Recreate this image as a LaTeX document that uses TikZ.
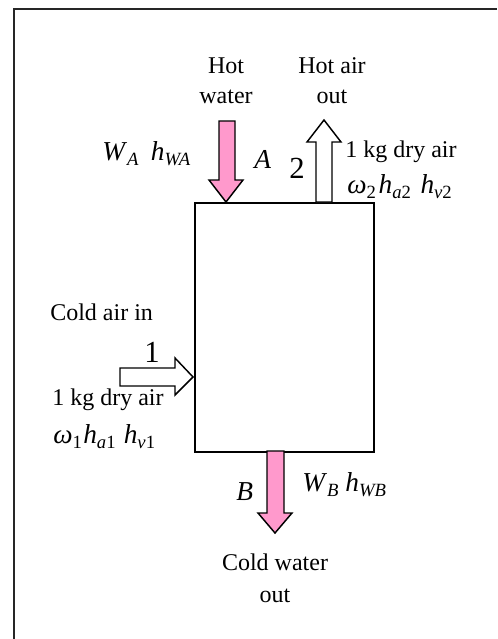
\documentclass[tikz,border=0pt]{standalone}
\usepackage{fontspec}
\setmainfont{Liberation Serif}
\definecolor{pinkw}{RGB}{255,153,204}
\newcommand{\sbs}[1]{\raisebox{-0.42ex}{\fontsize{14}{14}\selectfont #1}}
\newcommand{\ital}[1]{\textit{#1}}
\begin{document}
\begin{tikzpicture}[x=0.75pt,y=-0.75pt,
  lbl/.style={inner sep=0pt, font=\fontsize{18}{22}\selectfont},
  mlbl/.style={inner sep=0pt, font=\fontsize{20.5}{24}\selectfont},
  big/.style={inner sep=0pt, font=\fontsize{23}{26}\selectfont},
  blockarrow/.style={draw=black, line width=1.1pt, line join=miter},
  frame/.style={draw=black!85, line width=1.5pt}]
\useasboundingbox (0,0) rectangle (497,639);
% outer frame (top and left edges visible)
\draw[frame] (14,639) -- (14,9) -- (497,9);
% the unit
\node (box) [draw, line width=1.4pt, minimum width=134.25pt, minimum height=186.75pt,
  anchor=north west, inner sep=0pt] at (194,202) {};
% hot water in (A)
\draw[blockarrow, fill=pinkw] (219,121) -- (235,121) -- (235,180) -- (243,180) -- (226,202) -- (209,180) -- (219,180) -- cycle;
% hot air out (2)
\draw[blockarrow, fill=white] (316,202) -- (316,142) -- (307,142) -- (324,120) -- (341,142) -- (332,142) -- (332,202) -- cycle;
% cold air in (1)
\draw[blockarrow, fill=white] (120,368) -- (175,368) -- (175,358) -- (193,377) -- (175,395) -- (175,386) -- (120,386) -- cycle;
% cold water out (B)
\draw[blockarrow, fill=pinkw] (267,451) -- (267,513) -- (258,513) -- (275,533) -- (292,513) -- (284,513) -- (284,451) -- cycle;
% labels
\node[lbl, anchor=base] (hot1) at (226,73) {Hot};
\node[lbl, anchor=base] (hot2) at (226,103) {water};
\node[lbl, anchor=base] (ha1) at (332,73) {Hot air};
\node[lbl, anchor=base] (ha2) at (332,103) {out};
\node[mlbl, anchor=base west] (wa) at (102,160) {\ital{W}\sbs{\ital{A}}\hspace{0.45em}\ital{h}\sbs{\ital{WA}}};
\node[mlbl, anchor=base west] (la) at (254,168) {\ital{A}};
\node[big, anchor=base west] (l2) at (289,178) {2};
\node[lbl, anchor=base west] (kg2) at (345,157) {1 kg dry air};
\node[mlbl, anchor=base west] (om2) at (347,193) {\ital{ω}\sbs{2}\hspace{0.1em}\ital{h}\sbs{\ital{a}2}\hspace{0.35em}\ital{h}\sbs{\ital{v}2}};
\node[lbl, anchor=base west] (cai) at (50,320) {Cold air in};
\node[big, anchor=base] (l1) at (152,362) {1};
\node[lbl, anchor=base west] (kg1) at (52,405) {1 kg dry air};
\node[mlbl, anchor=base west] (om1) at (53,443) {\ital{ω}\sbs{1}\hspace{0.05em}\ital{h}\sbs{\ital{a}1}\hspace{0.3em}\ital{h}\sbs{\ital{v}1}};
\node[mlbl, anchor=base west] (lb) at (236,500) {\ital{B}};
\node[mlbl, anchor=base west] (wb) at (302,491) {\ital{W}\sbs{\ital{B}}\hspace{0.25em}\ital{h}\sbs{\ital{WB}}};
\node[lbl, anchor=base] (cw1) at (275,570) {Cold water};
\node[lbl, anchor=base] (cw2) at (275,602) {out};
\end{tikzpicture}
\end{document}
